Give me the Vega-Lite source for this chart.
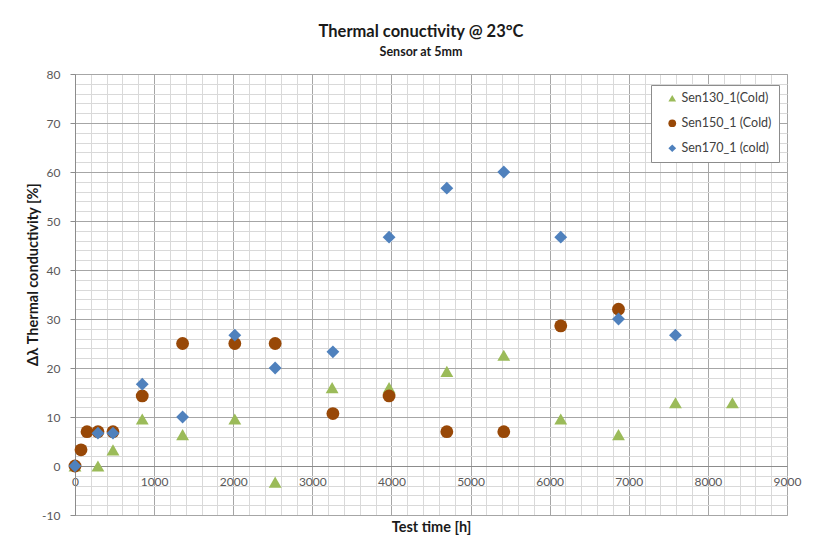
{
  "$schema": "https://vega.github.io/schema/vega-lite/v6.json",
  "width": 712,
  "height": 441,
  "autosize": {"type": "none"},
  "padding": {"left": 75, "top": 74, "right": 34, "bottom": 27},
  "background": "white",
  "config": {
    "font": "Lato",
    "view": {"stroke": "#a6a6a6", "strokeWidth": 1}
  },
  "title": {
    "text": "Thermal conuctivity @ 23°C",
    "subtitle": "Sensor at 5mm",
    "anchor": "middle",
    "dx": -10,
    "offset": 10,
    "font": "Lato",
    "fontSize": 16.5,
    "fontWeight": "bold",
    "color": "#1a1a1a",
    "subtitleFont": "Lato",
    "subtitleFontSize": 12.5,
    "subtitleFontWeight": "bold",
    "subtitleColor": "#1a1a1a",
    "subtitlePadding": 5
  },
  "data": {
    "values": [
      {"series": "Sen130_1(Cold)", "time": 0, "value": 0},
      {"series": "Sen130_1(Cold)", "time": 290, "value": 0},
      {"series": "Sen130_1(Cold)", "time": 480, "value": 3.3},
      {"series": "Sen130_1(Cold)", "time": 850, "value": 9.6},
      {"series": "Sen130_1(Cold)", "time": 1360, "value": 6.4},
      {"series": "Sen130_1(Cold)", "time": 2020, "value": 9.6},
      {"series": "Sen130_1(Cold)", "time": 2530, "value": -3.3},
      {"series": "Sen130_1(Cold)", "time": 3250, "value": 16},
      {"series": "Sen130_1(Cold)", "time": 3970, "value": 16},
      {"series": "Sen130_1(Cold)", "time": 4700, "value": 19.3},
      {"series": "Sen130_1(Cold)", "time": 5420, "value": 22.6},
      {"series": "Sen130_1(Cold)", "time": 6140, "value": 9.6},
      {"series": "Sen130_1(Cold)", "time": 6870, "value": 6.4},
      {"series": "Sen130_1(Cold)", "time": 7590, "value": 12.9},
      {"series": "Sen130_1(Cold)", "time": 8310, "value": 12.9},
      {"series": "Sen150_1 (Cold)", "time": 0, "value": 0},
      {"series": "Sen150_1 (Cold)", "time": 76, "value": 3.3},
      {"series": "Sen150_1 (Cold)", "time": 152, "value": 7},
      {"series": "Sen150_1 (Cold)", "time": 290, "value": 7},
      {"series": "Sen150_1 (Cold)", "time": 480, "value": 7},
      {"series": "Sen150_1 (Cold)", "time": 850, "value": 14.3},
      {"series": "Sen150_1 (Cold)", "time": 1360, "value": 25},
      {"series": "Sen150_1 (Cold)", "time": 2020, "value": 25},
      {"series": "Sen150_1 (Cold)", "time": 2530, "value": 25},
      {"series": "Sen150_1 (Cold)", "time": 3260, "value": 10.7},
      {"series": "Sen150_1 (Cold)", "time": 3970, "value": 14.3},
      {"series": "Sen150_1 (Cold)", "time": 4700, "value": 7},
      {"series": "Sen150_1 (Cold)", "time": 5420, "value": 7},
      {"series": "Sen150_1 (Cold)", "time": 6140, "value": 28.6},
      {"series": "Sen150_1 (Cold)", "time": 6870, "value": 32},
      {"series": "Sen170_1 (cold)", "time": 0, "value": 0},
      {"series": "Sen170_1 (cold)", "time": 290, "value": 6.7},
      {"series": "Sen170_1 (cold)", "time": 480, "value": 6.7},
      {"series": "Sen170_1 (cold)", "time": 850, "value": 16.7},
      {"series": "Sen170_1 (cold)", "time": 1360, "value": 10},
      {"series": "Sen170_1 (cold)", "time": 2020, "value": 26.7},
      {"series": "Sen170_1 (cold)", "time": 2530, "value": 20},
      {"series": "Sen170_1 (cold)", "time": 3260, "value": 23.3},
      {"series": "Sen170_1 (cold)", "time": 3970, "value": 46.7},
      {"series": "Sen170_1 (cold)", "time": 4700, "value": 56.7},
      {"series": "Sen170_1 (cold)", "time": 5420, "value": 60},
      {"series": "Sen170_1 (cold)", "time": 6140, "value": 46.7},
      {"series": "Sen170_1 (cold)", "time": 6870, "value": 30},
      {"series": "Sen170_1 (cold)", "time": 7590, "value": 26.7}
    ]
  },
  "mark": {"type": "point", "filled": true, "size": 165, "opacity": 1, "strokeWidth": 0},
  "encoding": {
    "x": {
      "field": "time",
      "type": "quantitative",
      "title": "Test time [h]",
      "scale": {"domain": [0, 9000], "nice": false, "zero": false},
      "axis": {
        "values": [0,200,400,600,800,1000,1200,1400,1600,1800,2000,2200,2400,2600,2800,3000,3200,3400,3600,3800,4000,4200,4400,4600,4800,5000,5200,5400,5600,5800,6000,6200,6400,6600,6800,7000,7200,7400,7600,7800,8000,8200,8400,8600,8800,9000],
        "labelExpr": "datum.value % 1000 === 0 ? '' + datum.value : ''",
        "offset": -49,
        "ticks": false,
        "domainColor": "#8c8c8c",
        "grid": true,
        "gridColor": {"condition": {"test": "datum.value % 1000 === 0", "value": "#a6a6a6"}, "value": "#d9d9d9"},
        "gridWidth": 1,
        "labelOverlap": false,
        "labelFlush": false,
        "labelFont": "Lato",
        "labelFontSize": 12,
        "labelColor": "#595959",
        "labelPadding": 10,
        "titleFont": "Lato",
        "titleFontSize": 14.5,
        "titleFontWeight": "bold",
        "titleColor": "#1a1a1a",
        "titleBaseline": "middle",
        "titleY": 61
      }
    },
    "y": {
      "field": "value",
      "type": "quantitative",
      "title": "Δλ Thermal conductivity [%]",
      "scale": {"domain": [-10, 80], "nice": false, "zero": false},
      "axis": {
        "values": [-10,-8,-6,-4,-2,0,2,4,6,8,10,12,14,16,18,20,22,24,26,28,30,32,34,36,38,40,42,44,46,48,50,52,54,56,58,60,62,64,66,68,70,72,74,76,78,80],
        "labelExpr": "datum.value % 10 === 0 ? '' + datum.value : ''",
        "ticks": true,
        "tickSize": 5,
        "tickColor": {"condition": {"test": "datum.value % 10 === 0", "value": "#8c8c8c"}, "value": "transparent"},
        "domainColor": "#8c8c8c",
        "grid": true,
        "gridColor": {"condition": {"test": "datum.value % 10 === 0", "value": "#a6a6a6"}, "value": "#d9d9d9"},
        "gridWidth": 1,
        "labelOverlap": false,
        "labelFlush": false,
        "labelFont": "Lato",
        "labelFontSize": 12,
        "labelColor": "#595959",
        "labelPadding": 10,
        "titleFont": "Lato",
        "titleFontSize": 14.5,
        "titleFontWeight": "bold",
        "titleColor": "#1a1a1a",
        "titleBaseline": "middle",
        "titleX": -42,
        "titleY": 200
      }
    },
    "color": {
      "field": "series",
      "type": "nominal",
      "scale": {"domain": ["Sen130_1(Cold)", "Sen150_1 (Cold)", "Sen170_1 (cold)"], "range": ["#9BBB59", "#984807", "#4F81BD"]},
      "legend": {
        "title": null,
        "orient": "none",
        "legendX": 576,
        "legendY": 11,
        "strokeColor": "#8c8c8c",
        "fillColor": "white",
        "padding": 7,
        "symbolOffset": 8,
        "rowPadding": 12,
        "labelFont": "Lato",
        "labelFontSize": 12.5,
        "labelColor": "#404040",
        "labelOffset": 3,
        "symbolSize": 60,
        "symbolStrokeWidth": 0
      }
    },
    "shape": {
      "field": "series",
      "type": "nominal",
      "scale": {"domain": ["Sen130_1(Cold)", "Sen150_1 (Cold)", "Sen170_1 (cold)"], "range": ["triangle-up", "circle", "diamond"]},
      "legend": {
        "title": null,
        "orient": "none",
        "legendX": 576,
        "legendY": 11,
        "strokeColor": "#8c8c8c",
        "fillColor": "white",
        "padding": 7,
        "symbolOffset": 8,
        "rowPadding": 12,
        "labelFont": "Lato",
        "labelFontSize": 12.5,
        "labelColor": "#404040",
        "labelOffset": 3,
        "symbolSize": 60,
        "symbolStrokeWidth": 0
      }
    }
  }
}
